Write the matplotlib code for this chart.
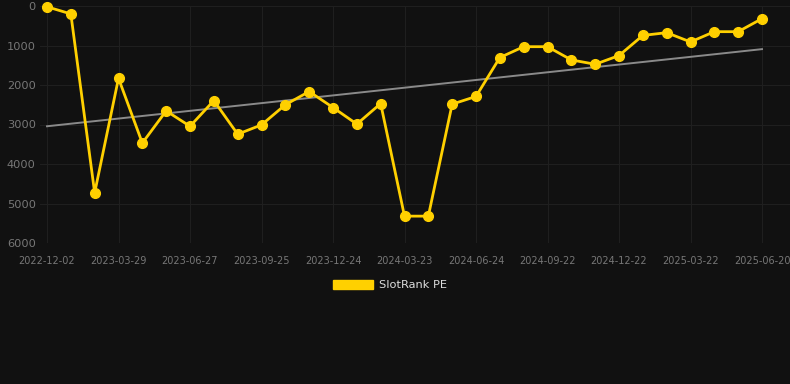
import numpy as np
import matplotlib
matplotlib.use("Agg")
import matplotlib.pyplot as plt
from matplotlib.patches import Patch

# rang mensal
tick_labels = ["2022-12-02", "2023-03-29", "2023-06-27", "2023-09-25", "2023-12-24",
               "2024-03-23", "2024-06-24", "2024-09-22", "2024-12-22", "2025-03-22",
               "2025-06-20"]
rank = [20, 200, 4730, 1830, 3470, 2655, 3045, 2395, 3245, 3010,
        2500, 2165, 2570, 2990, 2470, 5320, 5320, 2485, 2290, 1305,
        1030, 1030, 1365, 1475, 1255, 745, 675, 910, 650, 650, 320]
yticks = [0, 1000, 2000, 3000, 4000, 5000, 6000]

bg = "#111111"
gold = "#FFD000"

x = np.arange(len(rank))
# linha de tendência (regressão linear)
coef = np.polyfit(x, rank, 1)
trend = np.polyval(coef, x)

W, H = 790, 384
fig = plt.figure(figsize=(W / 100, H / 100), dpi=100, facecolor=bg)
left, right, top, bottom = 40, 790, 6, 243
ax = fig.add_axes([left / W, 1 - bottom / H, (right - left) / W, (bottom - top) / H])
ax.set_facecolor(bg)

step = (762 - 47) / 30
ax.set_xlim(-(47 - left) / step, 30 + (right - 762) / step)
ax.set_ylim(6000, 0)

ax.plot(x, trend, color="#8a8a8a", lw=1.4, zorder=2)
ax.plot(x, rank, color=gold, lw=2, marker="o", ms=7, zorder=3, clip_on=False)

ax.set_xticks(x[::3])
ax.set_xticklabels(tick_labels)
ax.set_yticks(yticks)
ax.grid(True, color="#1f1f1f", lw=0.8)
ax.set_axisbelow(True)
for s in ax.spines.values():
    s.set_visible(False)
ax.tick_params(axis="x", length=0, pad=9, labelsize=7, labelcolor="#777777")
ax.tick_params(axis="y", length=0, pad=3, labelsize=8.2, labelcolor="#777777")

fig.legend(handles=[Patch(color=gold, label="SlotRank PE")], loc="center",
           bbox_to_anchor=(390 / W, 1 - 285 / H), frameon=False, fontsize=8.2,
           labelcolor="#dddddd", handlelength=3.5, handleheight=0.9,
           handletextpad=0.5)

fig.savefig("out.png", dpi=100, facecolor=bg)
